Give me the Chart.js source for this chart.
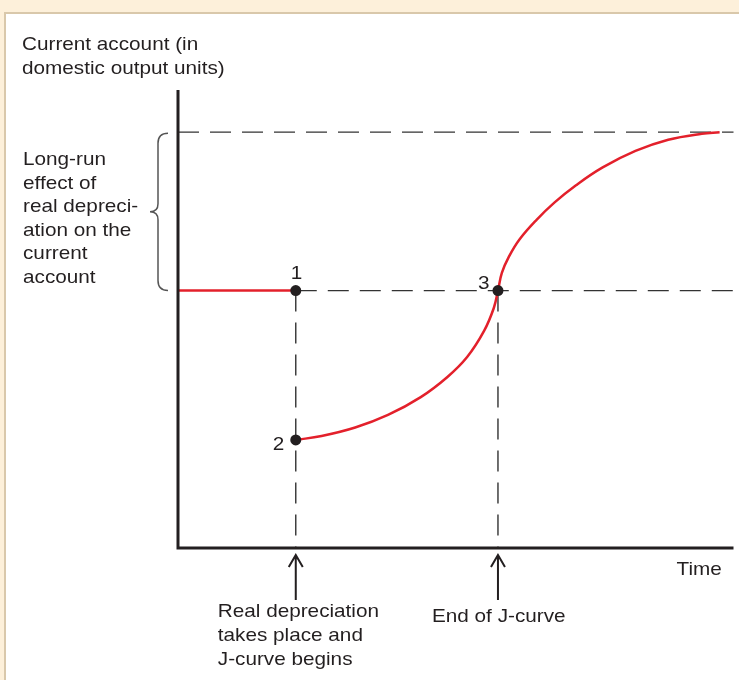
<!DOCTYPE html>
<html>
<head>
<meta charset="utf-8">
<script src="https://cdn.jsdelivr.net/npm/chart.js@4.4.0/dist/chart.umd.min.js"></script>
<style>
body { margin: 0; background: #fdf0da; }
canvas { display: block; }
</style>
</head>
<body>
<canvas id="chart" width="739" height="680"></canvas>
<script>
// time (0-100) and current account (0-100)
var flatX = [0, 21.2];
var flatY = [56.2, 56.2];
var curveX = [21.2, 25.85, 31.9, 37.8, 43.7, 48.5, 52.05, 55.1, 56.85, 57.6, 58.3, 59.55, 61.5, 64.55, 67.75, 71.65, 76.45, 82.35, 88.25, 94.3, 97.5];
var curveY = [23.6, 24.45, 26.3, 29.05, 32.95, 37.35, 41.7, 47.4, 52.4, 56.2, 60.05, 63.55, 67.4, 71.65, 75.4, 79.2, 83.1, 86.7, 89.15, 90.45, 90.75];
var pointX = [21.2, 21.2, 57.6];
var pointY = [56.2, 23.6, 56.2];
var pointLabels = ["1", "2", "3"];
var initialLevel = 56.2;
var longRunLevel = 90.8;
var depreciationTime = 21.2;
var endJTime = 57.6;

var yTitle = ["Current account (in", "domestic output units)"];
var braceText = ["Long-run", "effect of", "real depreci-", "ation on the", "current", "account"];
var startText = ["Real depreciation", "takes place and", "J-curve begins"];
var endText = ["End of J-curve"];
var xTitle = "Time";

function pts(xs, ys) {
	var out = [];
	for (var i = 0; i < xs.length; i++) out.push({x: xs[i], y: ys[i]});
	return out;
}

var ink = '#231f20';
var red = '#e3202b';
var dash = '#333333';

function txt(ctx, s, x, y) {
	ctx.save();
	ctx.translate(x, y);
	ctx.scale(1.12, 1);
	ctx.fillText(s, 0, 0);
	ctx.restore();
}

var decor = {
	id: 'decor',
	beforeDraw: function(chart) {
		var ctx = chart.ctx;
		ctx.save();
		ctx.fillStyle = '#fdf0da';
		ctx.fillRect(0, 0, chart.width, chart.height);
		ctx.fillStyle = '#d9c8ab';
		ctx.fillRect(4, 12, chart.width, chart.height);
		ctx.fillStyle = '#ffffff';
		ctx.fillRect(6, 14, chart.width, chart.height);
		ctx.restore();
	},
	afterDatasetsDraw: function(chart) {
		var ctx = chart.ctx;
		var xs = chart.scales.x, ys = chart.scales.y;
		var a = chart.chartArea;
		ctx.save();
		// axes
		ctx.strokeStyle = ink;
		ctx.lineWidth = 3;
		ctx.beginPath();
		ctx.moveTo(a.left, a.top);
		ctx.lineTo(a.left, a.bottom);
		ctx.lineTo(a.right, a.bottom);
		ctx.stroke();

		// arrows under the axis
		ctx.lineWidth = 2;
		[depreciationTime, endJTime].forEach(function(t) {
			var px = xs.getPixelForValue(t);
			ctx.beginPath();
			ctx.moveTo(px, a.bottom + 52);
			ctx.lineTo(px, a.bottom + 7);
			ctx.moveTo(px - 7, a.bottom + 19);
			ctx.lineTo(px, a.bottom + 7);
			ctx.lineTo(px + 7, a.bottom + 19);
			ctx.stroke();
		});

		// brace
		var yt = ys.getPixelForValue(longRunLevel) + 1;
		var yb = ys.getPixelForValue(initialLevel);
		var ym = (yt + yb) / 2;
		var bx = 158;
		ctx.strokeStyle = '#555555';
		ctx.lineWidth = 1.5;
		ctx.beginPath();
		ctx.moveTo(bx + 10, yt);
		ctx.quadraticCurveTo(bx, yt, bx, yt + 10);
		ctx.lineTo(bx, ym - 8);
		ctx.quadraticCurveTo(bx, ym, bx - 8, ym);
		ctx.quadraticCurveTo(bx, ym, bx, ym + 8);
		ctx.lineTo(bx, yb - 10);
		ctx.quadraticCurveTo(bx, yb, bx + 10, yb);
		ctx.stroke();

		// texts
		ctx.fillStyle = ink;
		ctx.font = '18.5px "Liberation Sans", Arial, sans-serif';
		ctx.textBaseline = 'middle';
		ctx.textAlign = 'left';
		yTitle.forEach(function(s, i) { txt(ctx, s, 22, 45 + i * 23.5); });
		braceText.forEach(function(s, i) { txt(ctx, s, 23, 160 + i * 23.6); });
		var sx = xs.getPixelForValue(depreciationTime);
		var ex = xs.getPixelForValue(endJTime);
		startText.forEach(function(s, i) { txt(ctx, s, sx - 78, a.bottom + 64 + i * 24); });
		endText.forEach(function(s, i) { txt(ctx, s, ex - 66, a.bottom + 69 + i * 24); });
		txt(ctx, xTitle, a.right - 57, a.bottom + 22);

		// point numbers
		var off = [[-5, -17], [-23, 5], [-20, -7]];
		pointLabels.forEach(function(s, i) {
			txt(ctx, s, xs.getPixelForValue(pointX[i]) + off[i][0], ys.getPixelForValue(pointY[i]) + off[i][1]);
		});
		ctx.restore();
	}
};

var dashStyle = {borderColor: dash, borderWidth: 1.4, borderDash: [21, 11], pointRadius: 0, showLine: true, order: 3, clip: false};

new Chart(document.getElementById('chart').getContext('2d'), {
	type: 'scatter',
	data: {
		datasets: [
			{data: pts(pointX, pointY), pointRadius: 5.5, pointBackgroundColor: ink, pointBorderWidth: 0, showLine: false, order: 0, clip: false},
			{data: pts(curveX, curveY), borderColor: red, borderWidth: 2.5, pointRadius: 0, showLine: true, tension: 0.4, order: 1, clip: false},
			{data: pts(flatX, flatY), borderColor: red, borderWidth: 2.5, pointRadius: 0, showLine: true, order: 1, clip: false},
			Object.assign({data: [{x: 0, y: longRunLevel}, {x: 100, y: longRunLevel}]}, dashStyle),
			Object.assign({data: [{x: depreciationTime, y: initialLevel}, {x: 100, y: initialLevel}]}, dashStyle),
			Object.assign({data: [{x: depreciationTime, y: initialLevel}, {x: depreciationTime, y: 0}]}, dashStyle),
			Object.assign({data: [{x: endJTime, y: initialLevel}, {x: endJTime, y: 0}]}, dashStyle)
		]
	},
	options: {
		responsive: false,
		animation: false,
		devicePixelRatio: 1,
		layout: {padding: {left: 178, top: 90, right: 0, bottom: 132}},
		plugins: {legend: {display: false}, tooltip: {enabled: false}},
		scales: {
			x: {type: 'linear', min: 0, max: 100, display: false},
			y: {type: 'linear', min: 0, max: 100, display: false}
		}
	},
	plugins: [decor]
});
</script>
</body>
</html>
